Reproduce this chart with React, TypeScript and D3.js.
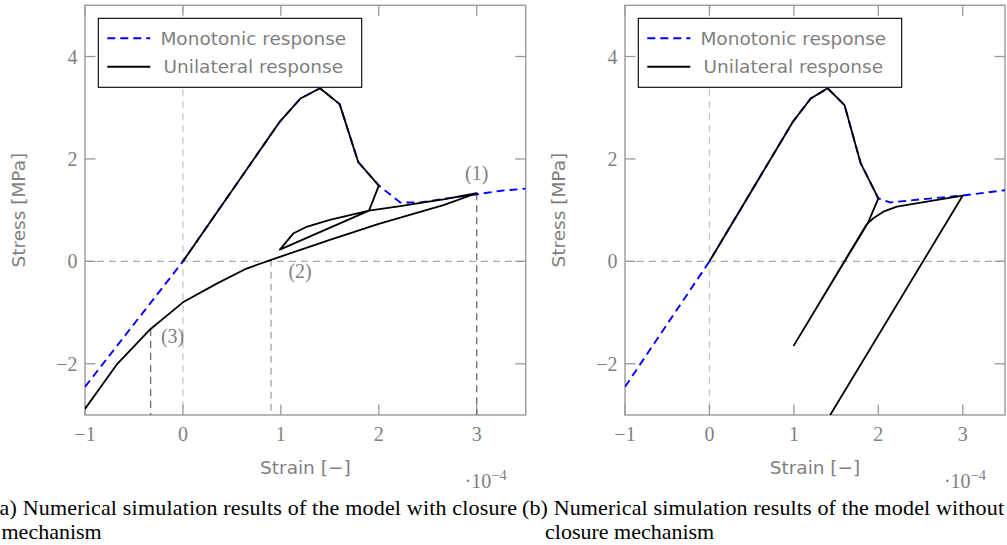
import { useRef, useEffect } from "react"
import * as d3 from "d3"

// (a) model with closure mechanism
const monoStrainA = [-1, 0, 0.99, 1.2, 1.4, 1.6, 1.79, 2.0, 2.22, 2.42, 2.7, 3.0, 3.25, 3.5]
const monoStressA = [-2.45, 0, 2.73, 3.18, 3.38, 3.07, 1.94, 1.48, 1.15, 1.15, 1.23, 1.31, 1.38, 1.42]
const uniStrainA = [
  0, 0.99, 1.2, 1.4, 1.6, 1.79, 2.0, 1.9, 0.99, 1.13, 1.27, 1.5, 1.9, 2.22, 2.46, 2.66, 3.0,
  2.66, 2.0, 1.5, 0.9, 0.65, 0.35, 0, -0.33, -0.67, -1.0,
]
const uniStressA = [
  0, 2.73, 3.18, 3.38, 3.07, 1.94, 1.48, 0.99, 0.23, 0.55, 0.68, 0.81, 0.99, 1.08, 1.15, 1.21, 1.33,
  1.1, 0.73, 0.42, 0.03, -0.14, -0.43, -0.8, -1.32, -2.0, -2.88,
]

// (b) model without closure mechanism
const monoStrainB = [-1, 0, 0.99, 1.2, 1.4, 1.6, 1.79, 2.0, 2.14, 2.5, 3.0, 3.5]
const monoStressB = [-2.45, 0, 2.73, 3.18, 3.38, 3.05, 1.92, 1.23, 1.15, 1.21, 1.285, 1.39]
const uniStrainB = [0, 0.99, 1.2, 1.4, 1.6, 1.79, 2.0, 1.88, 1.0, 1.86, 1.94, 2.06, 2.22, 3.0, 1.43]
const uniStressB = [0, 2.73, 3.18, 3.38, 3.05, 1.92, 1.23, 0.76, -1.64, 0.72, 0.84, 0.97, 1.07, 1.285, -3.0]

// marked points in (a)
const pointLabels = ["(1)", "(2)", "(3)"]
const pointStrain = [3.0, 0.9, -0.33]
const pointStress = [1.33, 0.03, -1.32]

const xTicks = [-1, 0, 1, 2, 3]
const yTicks = [-2, 0, 2, 4]
const legendLabels = ["Monotonic response", "Unilateral response"]
const captionA = ["(a) Numerical simulation results of the model with closure", "mechanism"]
const captionB = ["(b) Numerical simulation results of the model without", "closure mechanism"]

const sans = "'DejaVu Sans', sans-serif"
const serif = "'Liberation Serif', 'Times New Roman', serif"
const gray = "#7f7f7f"

const fmt = (t: number) => (t < 0 ? "\u2212" + Math.abs(t) : String(t))

export default function App() {
  const svgRef = useRef<SVGSVGElement>(null)

  function drawPanel(svg: any, id: string, left: number, right: number, mono: number[][], uni: number[][], withPoints: boolean) {
    const top = 5.3
    const bottom = 415
    const x = d3.scaleLinear().domain([-1, 3.5]).range([left, right])
    const y = d3.scaleLinear().domain([-3, 5]).range([bottom, top])

    const g = svg.append("g").attr("id", id)

    g.append("clipPath")
      .attr("id", id + "-clip")
      .append("rect")
      .attr("x", left)
      .attr("y", top)
      .attr("width", right - left)
      .attr("height", bottom - top)

    // zero lines
    g.append("line")
      .attr("x1", x(0)).attr("x2", x(0)).attr("y1", top).attr("y2", bottom)
      .attr("stroke", "#c8c8c8").attr("stroke-width", 1.3).attr("stroke-dasharray", "7 5")
    g.append("line")
      .attr("x1", left).attr("x2", right).attr("y1", y(0)).attr("y2", y(0))
      .attr("stroke", "#ababab").attr("stroke-width", 1.3).attr("stroke-dasharray", "7 5")

    // frame + ticks
    g.append("rect")
      .attr("x", left).attr("y", top).attr("width", right - left).attr("height", bottom - top)
      .attr("fill", "none").attr("stroke", "#a0a0a0").attr("stroke-width", 1.5)
    const tl = 10.5
    xTicks.forEach((t) => {
      g.append("line").attr("x1", x(t)).attr("x2", x(t)).attr("y1", bottom).attr("y2", bottom - tl)
        .attr("stroke", "#999").attr("stroke-width", 1.3)
      g.append("line").attr("x1", x(t)).attr("x2", x(t)).attr("y1", top).attr("y2", top + tl)
        .attr("stroke", "#999").attr("stroke-width", 1.3)
    })
    yTicks.forEach((t) => {
      g.append("line").attr("x1", left).attr("x2", left + tl).attr("y1", y(t)).attr("y2", y(t))
        .attr("stroke", "#999").attr("stroke-width", 1.3)
      g.append("line").attr("x1", right).attr("x2", right - tl).attr("y1", y(t)).attr("y2", y(t))
        .attr("stroke", "#999").attr("stroke-width", 1.3)
    })

    g.selectAll("text.xt")
      .data(xTicks)
      .enter()
      .append("text")
      .attr("class", "xt")
      .text((d: number) => fmt(d))
      .attr("x", (d: number) => x(d))
      .attr("y", 441)
      .attr("text-anchor", "middle")
      .style("font-family", serif)
      .style("font-size", "20px")
      .attr("fill", gray)

    g.selectAll("text.yt")
      .data(yTicks)
      .enter()
      .append("text")
      .attr("class", "yt")
      .text((d: number) => fmt(d))
      .attr("x", left - 7.5)
      .attr("y", (d: number) => y(d) + 7)
      .attr("text-anchor", "end")
      .style("font-family", serif)
      .style("font-size", "20px")
      .attr("fill", gray)

    // axis labels
    g.append("text")
      .text("Strain [\u2212]")
      .attr("x", (left + right) / 2)
      .attr("y", 474)
      .attr("text-anchor", "middle")
      .style("font-family", sans)
      .style("font-size", "18.5px")
      .attr("fill", gray)
    const mid = (top + bottom) / 2
    g.append("text")
      .text("Stress [MPa]")
      .attr("transform", `translate(${left - 60},${mid}) rotate(-90)`)
      .attr("text-anchor", "middle")
      .style("font-family", sans)
      .style("font-size", "18.5px")
      .attr("fill", gray)
    const sc = g.append("text")
      .attr("x", right - 19)
      .attr("y", 488)
      .attr("text-anchor", "end")
      .style("font-family", serif)
      .style("font-size", "20px")
      .attr("fill", gray)
    sc.append("tspan").text("\u00b710")
    sc.append("tspan").text("\u22124").attr("dy", -8).style("font-size", "14.5px")

    const plot = g.append("g").attr("clip-path", `url(#${id}-clip)`)

    // marker lines
    if (withPoints) {
      pointStrain.forEach((s, i) => {
        plot.append("line")
          .attr("x1", x(s)).attr("x2", x(s)).attr("y1", y(pointStress[i])).attr("y2", bottom)
          .attr("stroke", i === 1 ? "#a5a5a5" : "#6a6a6a")
          .attr("stroke-width", 1.3)
          .attr("stroke-dasharray", "7 5")
      })
    }

    const line = d3
      .line<number[]>()
      .x((d) => x(d[0]))
      .y((d) => y(d[1]))

    plot.append("path")
      .attr("d", line(d3.zip(mono[0], mono[1])))
      .attr("fill", "none")
      .attr("stroke", "#0000ff")
      .attr("stroke-width", 1.9)
      .attr("stroke-dasharray", "8 5")

    plot.append("path")
      .attr("d", line(d3.zip(uni[0], uni[1])))
      .attr("fill", "none")
      .attr("stroke", "#000")
      .attr("stroke-width", 1.8)
      .attr("stroke-linejoin", "round")

    if (withPoints) {
      const offs = [[0, -13], [29, 18], [22, 14]]
      pointLabels.forEach((lab, i) => {
        g.append("text")
          .text(lab)
          .attr("x", x(pointStrain[i]) + offs[i][0])
          .attr("y", y(pointStress[i]) + offs[i][1])
          .attr("text-anchor", "middle")
          .style("font-family", serif)
          .style("font-size", "20px")
          .attr("fill", gray)
      })
    }

    // legend
    const lx = left + 13.3
    const ly = 18.3
    const lg = g.append("g")
    lg.append("rect")
      .attr("x", lx).attr("y", ly).attr("width", 263.4).attr("height", 69)
      .attr("fill", "#fff").attr("stroke", "#000").attr("stroke-width", 1.1)
    legendLabels.forEach((lab, i) => {
      const yy = ly + 20 + i * 28.5
      lg.append("line")
        .attr("x1", lx + 9).attr("x2", lx + 52).attr("y1", yy).attr("y2", yy)
        .attr("stroke", i === 0 ? "#0000ff" : "#000")
        .attr("stroke-width", 1.9)
        .attr("stroke-dasharray", i === 0 ? "8 5" : null)
      lg.append("text")
        .text(lab)
        .attr("x", lx + 155)
        .attr("y", yy + 6.5)
        .attr("text-anchor", "middle")
        .style("font-family", sans)
        .style("font-size", "18.5px")
        .attr("fill", gray)
    })
  }

  function drawChart() {
    const svg = d3.select(svgRef.current)
    svg.selectAll("*").remove()
    svg.attr("width", 1007).attr("height", 545)

    drawPanel(svg, "pa", 85, 525.7, [monoStrainA, monoStressA], [uniStrainA, uniStressA], true)
    drawPanel(svg, "pb", 625, 1005, [monoStrainB, monoStressB], [uniStrainB, uniStressB], false)

    // captions
    const caps = [
      { lines: captionA, x: [-8, 1.5], w: 525 },
      { lines: captionB, x: [522, 545], w: 482 },
    ]
    caps.forEach((c) => {
      c.lines.forEach((t, i) => {
        const el = svg.append("text")
          .text(t)
          .attr("x", c.x[i])
          .attr("y", 515 + i * 24)
          .style("font-family", serif)
          .style("font-size", "22px")
          .attr("fill", "#000")
        if (i === 0) el.attr("textLength", c.w).attr("lengthAdjust", "spacing")
      })
    })
  }

  useEffect(() => {
    drawChart()
  }, [svgRef])

  return (
    <div style={{ position: "absolute", left: 0, top: 0 }}>
      <svg ref={svgRef}></svg>
    </div>
  )
}
